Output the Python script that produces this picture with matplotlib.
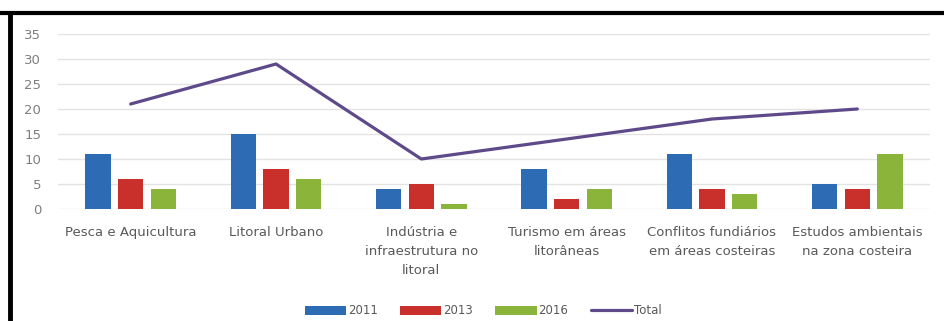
import numpy as np
import matplotlib
matplotlib.use('Agg')
import matplotlib.pyplot as plt
from matplotlib.lines import Line2D

# data
categories = ['Pesca e Aquicultura', 'Litoral Urbano',
              'Indústria e\ninfraestrutura no\nlitoral',
              'Turismo em áreas\nlitorâneas',
              'Conflitos fundiários\nem áreas costeiras',
              'Estudos ambientais\nna zona costeira']
v2011 = [11, 15, 4, 8, 11, 5]
v2013 = [6, 8, 5, 2, 4, 4]
v2016 = [4, 6, 1, 4, 3, 11]
total = [21, 29, 10, 14, 18, 20]
yticks = [0, 5, 10, 15, 20, 25, 30, 35]

c2011 = '#2D6CB5'
c2013 = '#C9302B'
c2016 = '#8AB43A'
ctot = '#5E4A8A'
txt = '#595959'

fig = plt.figure(figsize=(9.44, 3.21), dpi=100)
ax = fig.add_axes([58/944, 1-209/321, (930-58)/944, (209-34)/321])

x = np.arange(len(categories))
w = 0.175
sp = 0.225
b1 = ax.bar(x-sp, v2011, w, color=c2011, label='2011', zorder=3)
b2 = ax.bar(x, v2013, w, color=c2013, label='2013', zorder=3)
b3 = ax.bar(x+sp, v2016, w, color=c2016, label='2016', zorder=3)
ln, = ax.plot(x, total, color=ctot, lw=2.3, label='Total', zorder=4, solid_capstyle='round')

ax.set_xlim(-0.5, len(categories)-0.5)
ax.set_ylim(0, 35)
ax.set_yticks(yticks)
ax.set_yticklabels([str(t) for t in yticks], fontsize=9.5, color='#7f7f7f')
ax.set_xticks(x)
ax.set_xticklabels(categories, fontsize=9.5, color=txt, linespacing=1.6)
ax.tick_params(axis='both', length=0)
ax.tick_params(axis='x', pad=12)
ax.tick_params(axis='y', pad=12)
ax.grid(axis='y', color='#e3e3e3', lw=1, zorder=0)
for s in ax.spines.values():
    s.set_visible(False)

fig.legend(handles=[b1, b2, b3, ln], labels=['2011', '2013', '2016', 'Total'],
           loc='center', bbox_to_anchor=(483/944, 1-311/321), ncol=4, frameon=False,
           fontsize=8.5, labelcolor=txt, handlelength=3.5, handleheight=0.75,
           handletextpad=0.15, columnspacing=1.9)

# black frame on top and left of the picture
fig.add_artist(Line2D([0, 1], [1-13/321, 1-13/321], color='black', lw=3, transform=fig.transFigure))
fig.add_artist(Line2D([10/944, 10/944], [0, 1-13/321], color='black', lw=3.5, transform=fig.transFigure))

fig.savefig('out.png', dpi=100, facecolor='white')
